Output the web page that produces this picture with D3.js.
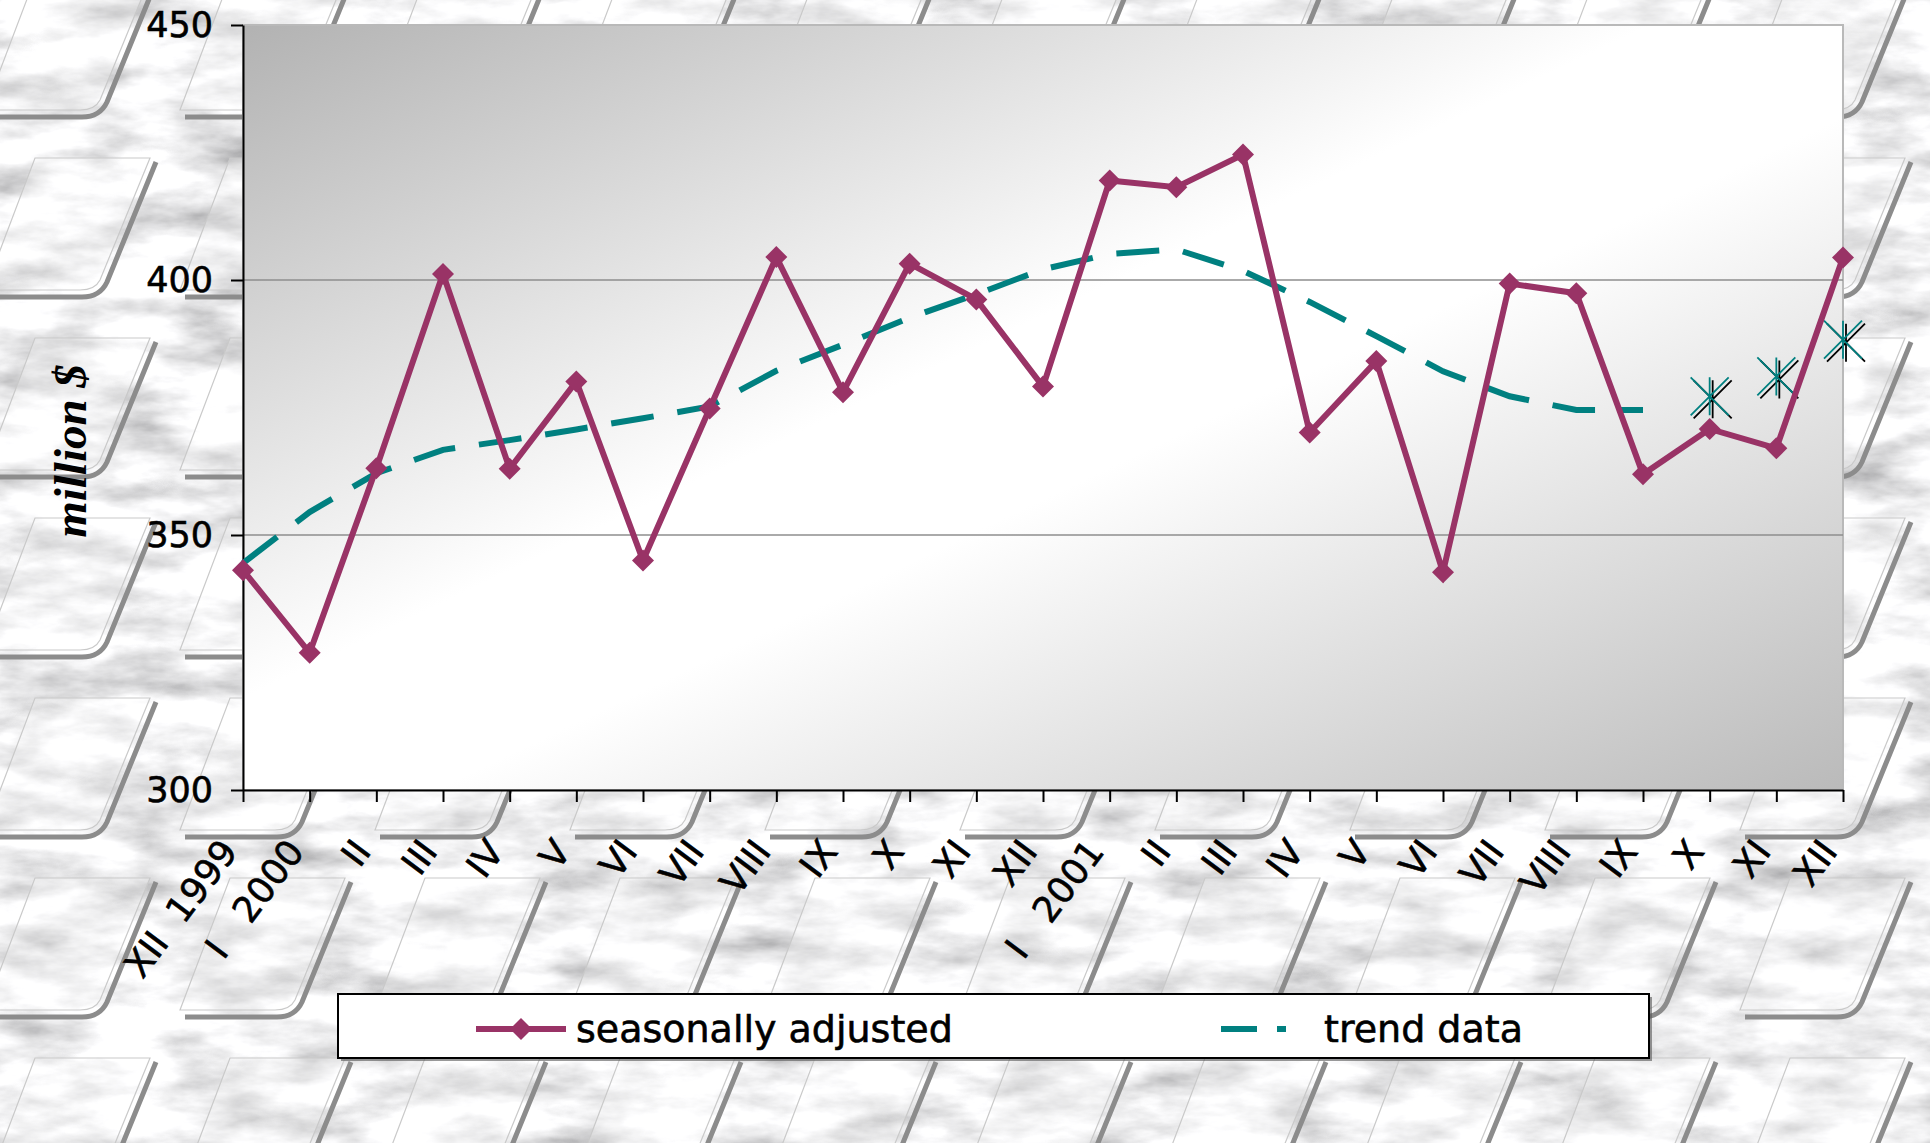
<!DOCTYPE html>
<html>
<head>
<meta charset="utf-8">
<script src="https://cdn.jsdelivr.net/npm/d3@7"></script>
<style>
  body { margin: 0; overflow: hidden; background: #e2e2e2; }
  text { white-space: pre; }
</style>
</head>
<body>
<script>
// month labels on the category axis (Dec 1999 .. Dec 2001)
const monthLabels = ["XII  1999", "I   2000", "II", "III", "IV", "V", "VI", "VII", "VIII", "IX", "X", "XI", "XII",
                     "I   2001", "II", "III", "IV", "V", "VI", "VII", "VIII", "IX", "X", "XI", "XII"];
// seasonally adjusted, million $
const seasonal = [343.1, 326.9, 363.1, 401.2, 363.0, 380.1, 345.0, 374.8, 404.5, 378.0, 403.2, 396.2, 379.1,
                  419.5, 418.2, 424.6, 370.1, 384.1, 342.7, 399.3, 397.4, 361.9, 370.8, 367.0, 404.4];
// trend data (ends at IX 2001)
const trend = [344.5, 354.5, 362.1, 366.7, 368.6, 370.7, 372.9, 375.2, 382.2, 387.3, 392.6, 397.2, 402.1,
               405.1, 406.0, 401.8, 395.7, 389.0, 382.1, 377.2, 374.5, 374.5];
// trend forecast (X, XI, XII 2001) shown as star markers
const forecastIdx = [22, 23, 24];
const forecast = [377.2, 381.1, 388.3];
const yTicks = [300, 350, 400, 450];

const W = 1930, H = 1143;
const margin = { left: 243, top: 25, right: 87, bottom: 353 };
const innerW = W - margin.left - margin.right;
const innerH = H - margin.top - margin.bottom;

const PLUM = "#993366", TEAL = "#008080";
const FONT = "'DejaVu Sans', Verdana, sans-serif";

const svg = d3.select("body").append("svg").attr("width", W).attr("height", H);
const defs = svg.append("defs");

// --- marble background ---
const marble = defs.append("filter").attr("id", "marble")
  .attr("x", 0).attr("y", 0).attr("width", "100%").attr("height", "100%");
marble.append("feTurbulence").attr("type", "fractalNoise")
  .attr("baseFrequency", "0.011 0.03").attr("numOctaves", 5).attr("seed", 11);
marble.append("feColorMatrix").attr("type", "matrix")
  .attr("values", "1.1 0 0 0 0.33  1.1 0 0 0 0.33  1.1 0 0 0 0.34  0 0 0 0 1");
svg.append("rect").attr("width", W).attr("height", H).attr("fill", "#ddd").attr("filter", "url(#marble)");

// decorative tiles (rough version of the slanted chevron shapes)
const tile = defs.append("pattern").attr("id", "tiles").attr("patternUnits", "userSpaceOnUse")
  .attr("width", 195).attr("height", 180).attr("x", -20).attr("y", -40);
tile.append("path").attr("d", "M55,18 L170,18 L120,140 Q115,150 100,150 L5,150 Z")
  .attr("fill", "rgba(255,255,255,0.25)").attr("stroke", "#c9c9c9").attr("stroke-width", 1.2);
tile.append("path").attr("d", "M176,22 L127,142 Q120,157 102,157 L10,157")
  .attr("fill", "none").attr("stroke", "#8c8c8c").attr("stroke-width", 5);
svg.append("rect").attr("width", W).attr("height", H).attr("fill", "url(#tiles)");

// --- plot area ---
const grad = defs.append("linearGradient").attr("id", "plotGrad")
  .attr("x1", 0).attr("y1", 0).attr("x2", 1).attr("y2", 1);
grad.append("stop").attr("offset", 0).attr("stop-color", "#b2b2b2");
grad.append("stop").attr("offset", 0.44).attr("stop-color", "#ffffff");
grad.append("stop").attr("offset", 0.56).attr("stop-color", "#ffffff");
grad.append("stop").attr("offset", 1).attr("stop-color", "#bababa");

const g = svg.append("g").attr("transform", `translate(${margin.left},${margin.top})`);

g.append("rect").attr("width", innerW).attr("height", innerH)
  .attr("fill", "url(#plotGrad)").attr("stroke", "#b9b9b9").attr("stroke-width", 2);

const x = d3.scalePoint().domain(d3.range(monthLabels.length)).range([0, innerW]).padding(0);
const y = d3.scaleLinear().domain([300, 450]).range([innerH, 0]);

// gridlines
g.selectAll("line.grid").data(yTicks.filter(t => t > 300 && t < 450)).enter().append("line")
  .attr("class", "grid")
  .attr("x1", 0).attr("x2", innerW)
  .attr("y1", d => y(d)).attr("y2", d => y(d))
  .attr("stroke", "#8e8e8e").attr("stroke-width", 1.6);

// y axis
const yAxis = g.append("g")
  .call(d3.axisLeft(y).tickValues(yTicks).tickSize(12).tickPadding(18).tickSizeOuter(0));
yAxis.select(".domain").attr("stroke", "#000").attr("stroke-width", 2);
yAxis.selectAll(".tick line").attr("stroke", "#000").attr("stroke-width", 2);
yAxis.selectAll(".tick text").attr("font-family", FONT).attr("font-size", 35).attr("fill", "#000")
  .attr("stroke", "#000").attr("stroke-width", 0.6);

// x axis
const xAxis = g.append("g").attr("transform", `translate(0,${innerH})`)
  .call(d3.axisBottom(x).tickSize(12).tickSizeOuter(0).tickFormat(() => ""));
xAxis.select(".domain").attr("stroke", "#000").attr("stroke-width", 2);
xAxis.selectAll(".tick line").attr("stroke", "#000").attr("stroke-width", 2);

g.selectAll("text.xlab").data(monthLabels).enter().append("text")
  .attr("class", "xlab")
  .attr("transform", (d, i) => `translate(${x(i) - 4},${innerH + 62}) rotate(-53)`)
  .attr("text-anchor", "end")
  .attr("font-family", FONT).attr("font-size", 36).attr("fill", "#000")
  .attr("stroke", "#000").attr("stroke-width", 0.6)
  .text(d => d);

// y label
svg.append("text")
  .attr("transform", `translate(86,451) rotate(-90)`)
  .attr("text-anchor", "middle")
  .attr("font-family", "'Liberation Serif', 'Times New Roman', serif")
  .attr("font-style", "italic").attr("font-weight", "bold")
  .attr("font-size", 47).attr("fill", "#000")
  .text("million $");

// trend line
const line = d3.line().x(d => x(d.i)).y(d => y(d.v));
const trendPts = trend.map((v, i) => ({ i, v }));
g.append("path").datum(trendPts)
  .attr("fill", "none").attr("stroke", TEAL).attr("stroke-width", 6)
  .attr("stroke-dasharray", "43,24")
  .attr("d", line);

// forecast stars (teal with black shadow)
const star = r => `M${-r},${-r}L${r},${r}M${r},${-r}L${-r},${r}M0,${-r}L0,${r}`;
const fc = forecast.map((v, k) => ({ i: forecastIdx[k], v }));
g.selectAll("path.starShadow").data(fc).enter().append("path")
  .attr("class", "starShadow")
  .attr("transform", d => `translate(${x(d.i) + 3},${y(d.v) + 3})`)
  .attr("d", star(19)).attr("stroke", "#000").attr("stroke-width", 1.8).attr("fill", "none");
g.selectAll("path.star").data(fc).enter().append("path")
  .attr("class", "star")
  .attr("transform", d => `translate(${x(d.i)},${y(d.v)})`)
  .attr("d", star(19)).attr("stroke", TEAL).attr("stroke-width", 1.8).attr("fill", "none");

// seasonally adjusted line
const seasPts = seasonal.map((v, i) => ({ i, v }));
g.append("path").datum(seasPts)
  .attr("fill", "none").attr("stroke", PLUM).attr("stroke-width", 6)
  .attr("stroke-linejoin", "miter").attr("d", line);

const diamond = r => `M0,${-r}L${r},0L0,${r}L${-r},0Z`;
g.selectAll("path.dia").data(seasPts).enter().append("path")
  .attr("class", "dia")
  .attr("transform", d => `translate(${x(d.i)},${y(d.v)})`)
  .attr("d", diamond(11)).attr("fill", PLUM);

// --- legend ---
const lg = svg.append("g").attr("transform", "translate(338,994)");
lg.append("rect").attr("x", 3).attr("y", 3).attr("width", 1311).attr("height", 64).attr("fill", "#555").attr("opacity", 0.6);
lg.append("rect").attr("width", 1311).attr("height", 64).attr("fill", "#fff")
  .attr("stroke", "#000").attr("stroke-width", 2);

lg.append("line").attr("x1", 138).attr("x2", 228).attr("y1", 35).attr("y2", 35)
  .attr("stroke", PLUM).attr("stroke-width", 6);
lg.append("path").attr("transform", "translate(183,35)").attr("d", diamond(11)).attr("fill", PLUM);
lg.append("text").attr("x", 238).attr("y", 48)
  .attr("font-family", FONT).attr("font-size", 38).attr("fill", "#000")
  .attr("stroke", "#000").attr("stroke-width", 0.6)
  .text("seasonally adjusted");

lg.append("line").attr("x1", 883).attr("x2", 948).attr("y1", 35).attr("y2", 35)
  .attr("stroke", TEAL).attr("stroke-width", 6).attr("stroke-dasharray", "36,20");
lg.append("text").attr("x", 986).attr("y", 48)
  .attr("font-family", FONT).attr("font-size", 38).attr("fill", "#000")
  .attr("stroke", "#000").attr("stroke-width", 0.6)
  .text("trend data");
</script>
</body>
</html>
